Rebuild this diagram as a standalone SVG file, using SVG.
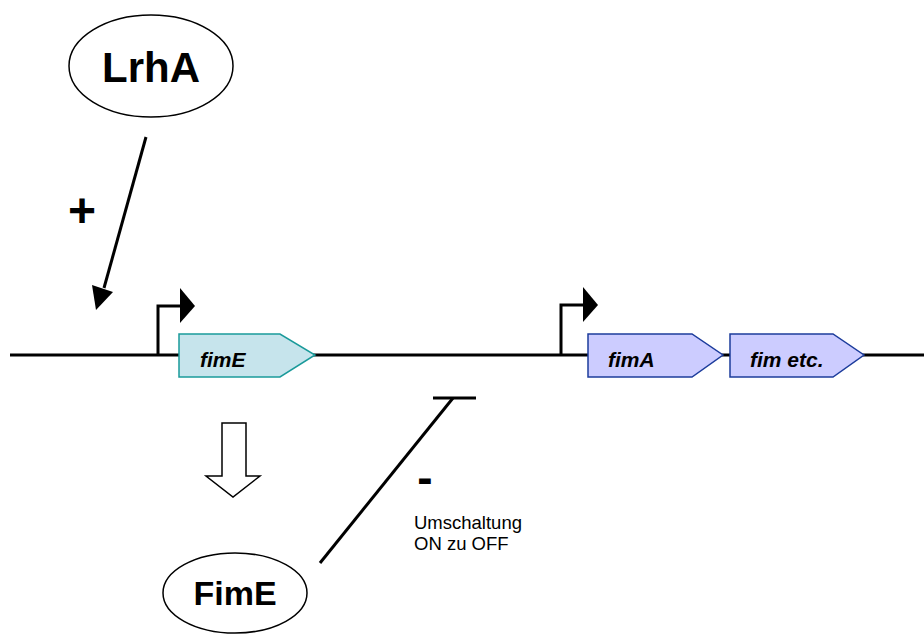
<svg xmlns="http://www.w3.org/2000/svg" width="924" height="636" viewBox="0 0 924 636">
  <style>
    .line { stroke: #000; stroke-width: 3; fill: none; }
    .oval { fill: #fff; stroke: #000; stroke-width: 1.5; }
    .big { font-family: "Liberation Sans", Arial, sans-serif; font-weight: bold; fill: #000; text-anchor: middle; }
    .gene-lbl { font-family: "Liberation Sans", Arial, sans-serif; font-weight: bold; font-style: italic; font-size: 21px; fill: #000; }
    .note { font-family: "Liberation Sans", Arial, sans-serif; font-size: 18.5px; fill: #000; }
    .teal { fill: #c6e4ec; stroke: #1a9a9a; stroke-width: 1.5; }
    .blue { fill: #ccccff; stroke: #1c3c9c; stroke-width: 1.5; }
  </style>

  <!-- DNA strand -->
  <g id="dna">
    <line class="line" x1="10" y1="355" x2="924" y2="355"/>
  </g>

  <!-- promoters (bent arrows) -->
  <g id="promoter-fimE">
    <polyline class="line" points="158,355 158,306 181,306"/>
    <polygon points="180,288 195,306 180,323" fill="#000"/>
  </g>
  <g id="promoter-fimA">
    <polyline class="line" points="561,355 561,305 584,305"/>
    <polygon points="583,287 598,305 583,322" fill="#000"/>
  </g>

  <!-- genes -->
  <g id="gene-fimE">
    <polygon class="teal" points="179,334 280,334 315,355 280,377 179,377"/>
    <text class="gene-lbl" x="200" y="367">fimE</text>
  </g>
  <g id="gene-fimA">
    <polygon class="blue" points="588,334 692,334 723,355 692,377 588,377"/>
    <text class="gene-lbl" x="608" y="367">fimA</text>
  </g>
  <g id="gene-fim-etc">
    <polygon class="blue" points="730,334 833,334 864,355 833,377 730,377"/>
    <text class="gene-lbl" x="750" y="367">fim etc.</text>
  </g>

  <!-- regulators -->
  <g id="LrhA">
    <ellipse class="oval" cx="151" cy="66" rx="82" ry="51"/>
    <text class="big" x="151" y="82" font-size="42">LrhA</text>
  </g>
  <g id="FimE">
    <ellipse class="oval" cx="235" cy="593" rx="72" ry="40"/>
    <text class="big" x="235" y="605" font-size="34">FimE</text>
  </g>

  <!-- connectors -->
  <g id="connectors">
    <!-- LrhA activates fimE promoter -->
    <line class="line" x1="146" y1="137" x2="104" y2="288"/>
    <polygon points="96,310 92,285 113,292" fill="#000"/>
    <text class="big" x="82" y="227" font-size="48">+</text>

    <!-- fimE expression gives FimE -->
    <polygon points="222,423 246,423 246,476 260,476 233,497 206,476 222,476" fill="#fff" stroke="#000" stroke-width="1.5"/>

    <!-- FimE switches fimA promoter ON to OFF -->
    <line class="line" x1="320" y1="563" x2="453" y2="398"/>
    <line class="line" x1="433" y1="398" x2="476" y2="398"/>
    <text class="big" x="425" y="493" font-size="46">-</text>
    <text class="note" x="414" y="529">Umschaltung</text>
    <text class="note" x="414" y="550">ON zu OFF</text>
  </g>
</svg>
